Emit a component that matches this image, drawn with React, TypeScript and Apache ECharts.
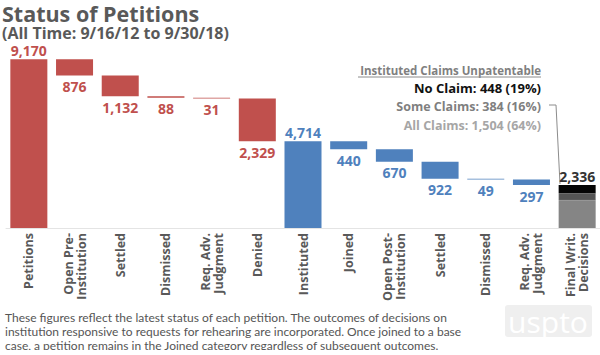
import React, { useEffect, useRef } from "react";
import * as echarts from "echarts";

const categories = [
  "Petitions",
  "Open Pre-\nInstitution",
  "Settled",
  "Dismissed",
  "Req. Adv.\nJudgment",
  "Denied",
  "Instituted",
  "Joined",
  "Open Post-\nInstitution",
  "Settled",
  "Dismissed",
  "Req. Adv.\nJudgment",
  "Final Writ.\nDecisions",
];
// first entry is the total petitions, then decrements
const preValues = [9170, 876, 1132, 88, 31, 2329];
// first entry is instituted total, then decrements
const postValues = [4714, 440, 670, 922, 49, 297];
const finalLabels = ["No Claim", "Some Claims", "All Claims"];
const finalValues = [448, 384, 1504];

const titleText = "Status of Petitions";
const subtitleText = "(All Time: 9/16/12 to 9/30/18)";
const annotTitle = "Instituted Claims Unpatentable";
const footerLines = [
  "These figures reflect the latest status of each petition. The outcomes of decisions on",
  "institution responsive to requests for rehearing are incorporated. Once joined to a base",
  "case, a petition remains in the Joined category regardless of subsequent outcomes.",
];

const RED = "#c0504d";
const BLUE = "#4f81bd";
const fmt = (v: number) => v.toLocaleString("en-US");

export default function App() {
  const ref = useRef<HTMLDivElement>(null);
  useEffect(() => {
    if (!ref.current) return;
    const chart = echarts.init(ref.current, undefined, { renderer: "svg" });
    const n = categories.length;
    const base: any[] = new Array(n).fill("-");
    const red: any[] = new Array(n).fill("-");
    const blue: any[] = new Array(n).fill("-");
    let run = preValues[0];
    red[0] = { value: preValues[0], label: { position: "top", distance: 2 } };
    base[0] = 0;
    for (let i = 1; i < preValues.length; i++) {
      run -= preValues[i];
      base[i] = run;
      red[i] = preValues[i];
    }
    const off = preValues.length;
    let run2 = postValues[0];
    base[off] = 0;
    blue[off] = { value: postValues[0], label: { position: "top", distance: 2 } };
    for (let i = 1; i < postValues.length; i++) {
      run2 -= postValues[i];
      base[off + i] = run2;
      blue[off + i] = postValues[i];
    }
    const fi = n - 1;
    const finalTotal = finalValues.reduce((a, b) => a + b, 0);
    const mk = (v: number) => {
      const arr: any[] = new Array(n).fill("-");
      arr[fi] = v;
      return arr;
    };
    const font = "'Open Sans', sans-serif";
    const pct = (v: number) => Math.round((v / finalTotal) * 100);
    const annotColors = ["#111111", "#7f7f7f", "#a6a6a6"];
    const annotSizes = [13, 12.5, 12.5];

    const option: any = {
      animation: false,
      textStyle: { fontFamily: font },
      grid: { left: 6, width: 596, top: 44, height: 184 },
      xAxis: {
        type: "category",
        data: categories,
        axisTick: { show: false },
        axisLine: { lineStyle: { color: "#e4e4e4", width: 1 } },
        axisLabel: {
          interval: 0,
          rotate: 90,
          margin: 5,
          fontSize: 12.5,
          fontWeight: "bold",
          color: "#595959",
          lineHeight: 13,
          fontFamily: font,
        },
      },
      yAxis: { type: "value", min: 0, max: 10000, show: false, splitLine: { show: false } },
      series: [
        {
          type: "bar",
          stack: "w",
          data: base,
          barWidth: "81%",
          itemStyle: { color: "transparent" },
          silent: true,
        },
        {
          type: "bar",
          stack: "w",
          data: red,
          itemStyle: { color: RED },
          label: {
            show: true,
            position: "bottom",
            distance: 4,
            formatter: (p: any) => fmt(p.value),
            color: RED,
            fontSize: 14,
            lineHeight: 14,
            fontWeight: "bold",
            fontFamily: font,
          },
        },
        {
          type: "bar",
          stack: "w",
          data: blue,
          itemStyle: { color: BLUE },
          label: {
            show: true,
            position: "bottom",
            distance: 4,
            formatter: (p: any) => fmt(p.value),
            color: BLUE,
            fontSize: 14,
            lineHeight: 14,
            fontWeight: "bold",
            fontFamily: font,
          },
        },
        {
          name: finalLabels[2],
          type: "bar",
          stack: "w",
          data: mk(finalValues[2]),
          itemStyle: { color: "#858585" },
        },
        {
          name: finalLabels[1],
          type: "bar",
          stack: "w",
          data: mk(finalValues[1]),
          itemStyle: { color: "#555555", borderColor: "#777777", borderWidth: 0.5 },
        },
        {
          name: finalLabels[0],
          type: "bar",
          stack: "w",
          data: mk(finalValues[0]),
          itemStyle: { color: "#050505" },
          label: {
            show: true,
            position: "top",
            distance: 2,
            formatter: () => fmt(finalTotal),
            color: "#333333",
            fontSize: 14,
            lineHeight: 14,
            fontWeight: "bold",
            fontFamily: font,
          },
        },
      ],
      graphic: [
        {
          type: "text",
          x: 2,
          y: 13.5,
          style: {
            text: titleText,
            font: `bold 21.5px ${font}`,
            lineHeight: 20,
            fill: "#595959",
            textVerticalAlign: "middle",
          },
        },
        {
          type: "text",
          x: 2,
          y: 32.5,
          style: {
            text: subtitleText,
            font: `bold 16px ${font}`,
            lineHeight: 15,
            fill: "#595959",
            textVerticalAlign: "middle",
          },
        },
        {
          type: "text",
          x: 541,
          y: 70,
          style: {
            text: annotTitle,
            font: `bold 11.5px ${font}`,
            fill: "#7f7f7f",
            textAlign: "right",
            textVerticalAlign: "middle",
          },
        },
        {
          type: "line",
          shape: { x1: 358, y1: 77, x2: 541, y2: 77 },
          style: { stroke: "#8c8c8c", lineWidth: 1 },
        },
        ...finalLabels.map((lab, i) => ({
          type: "text",
          x: 541,
          y: 88 + i * 18.5,
          style: {
            text: `${lab}: ${fmt(finalValues[i])} (${pct(finalValues[i])}%)`,
            font: `bold ${annotSizes[i]}px ${font}`,
            fill: annotColors[i],
            textAlign: "right",
            textVerticalAlign: "middle",
          },
        })),
        {
          type: "polyline",
          shape: { points: [[549, 105], [556, 105], [560, 184]] },
          style: { stroke: "#8c8c8c", lineWidth: 1, fill: "none" },
        },
        ...footerLines.map((t, i) => ({
          type: "text",
          x: 5,
          y: 317 + i * 14,
          style: {
            text: t,
            font: `12px Lato, sans-serif`,
            fill: "#555555",
            textVerticalAlign: "middle",
          },
        })),
        {
          type: "rect",
          shape: { x: 505, y: 305, width: 87, height: 32, r: 3 },
          style: { fill: "#efefef" },
        },
        {
          type: "text",
          x: 548,
          y: 321,
          style: {
            text: "uspto",
            font: `30px 'Open Sans', sans-serif`,
            fill: "#ffffff",
            textAlign: "center",
            textVerticalAlign: "middle",
          },
        },
        {
          type: "rect",
          z: 100,
          shape: { x: 0, y: 350, width: 600, height: 5 },
          style: { fill: "#ffffff" },
        },
      ],
    };
    chart.setOption(option);
    return () => chart.dispose();
  }, []);
  return (
    <div
      ref={ref}
      style={{ position: "fixed", left: 0, top: 0, width: 600, height: 355, background: "#fff" }}
    />
  );
}
